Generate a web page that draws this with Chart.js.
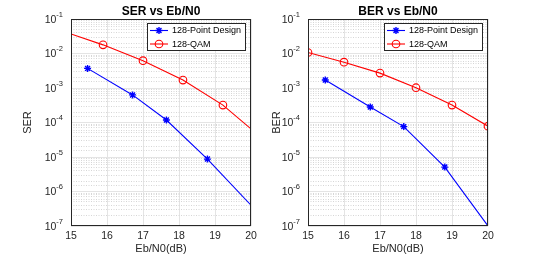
<!DOCTYPE html>
<html><head><meta charset="utf-8">
<script src="https://cdn.jsdelivr.net/npm/chart.js@4/dist/chart.umd.min.js"></script>
<style>
html,body{margin:0;padding:0;background:#fff;width:540px;height:256px;overflow:hidden}
.box{position:absolute;top:0;width:270px;height:256px}
</style></head><body>
<div class="box" style="left:0"><canvas id="c1" width="270" height="256"></canvas></div>
<div class="box" style="left:270px"><canvas id="c2" width="270" height="256"></canvas></div>
<script>
// ---- data ----
const xTicks = [15, 16, 17, 18, 19, 20];
const serDesignX = [15.46, 16.71, 17.65, 18.79, 20];
const serDesignY = [3.7e-3, 6.3e-4, 1.18e-4, 8.7e-6, 4.0e-7];
const serQamX = [15, 15.89, 17.0, 18.11, 19.22, 20];
const serQamY = [3.7e-2, 1.78e-2, 6.2e-3, 1.7e-3, 3.2e-4, 6.5e-5];
const berDesignX = [15.48, 16.73, 17.66, 18.80, 20];
const berDesignY = [1.7e-3, 2.8e-4, 7.6e-5, 5.1e-6, 1.0e-7];
const berQamX = [15, 16, 17, 18, 19, 20];
const berQamY = [1.07e-2, 5.6e-3, 2.7e-3, 1.02e-3, 3.2e-4, 7.8e-5];
const yMinVal = 1e-7, yMaxVal = 1e-1;
const labelDesign = '128-Point Design';
const labelQam = '128-QAM';

// ---- styling / helpers ----
const FF = '"Liberation Sans", Arial, Helvetica, sans-serif';
const AX = '#262626';
const isDecade = v => { const l = Math.log10(v); return Math.abs(l - Math.round(l)) < 1e-6; };
const pts = (xs, ys) => xs.map((x, i) => ({x, y: ys[i]}));

const frame = {
  id: 'frame',
  afterDatasetsDraw(chart) {
    const {ctx, chartArea: a} = chart;
    ctx.save();
    ctx.strokeStyle = AX; ctx.lineWidth = 1;
    ctx.strokeRect(Math.round(a.left) + 0.5, Math.round(a.top) + 0.5,
                   Math.round(a.right - a.left) - 1, Math.round(a.bottom - a.top) - 1);
    ctx.restore();
  }
};

// power-of-ten tick labels with a raised exponent, placed at the y scale's own tick pixels
const powLabels = {
  id: 'powLabels',
  afterDraw(chart) {
    const {ctx} = chart;
    const s = chart.scales.y;
    ctx.save();
    ctx.fillStyle = AX;
    ctx.textBaseline = 'middle';
    ctx.textAlign = 'left';
    s.ticks.forEach(t => {
      if (!isDecade(t.value)) return;
      const e = String(Math.round(Math.log10(t.value)));
      const y = s.getPixelForValue(t.value);
      ctx.font = '7.5px ' + FF;
      const ew = ctx.measureText(e).width;
      ctx.font = '10.5px ' + FF;
      const bw = ctx.measureText('10').width;
      const right = s.right - 8;
      ctx.fillText('10', right - ew - bw, y + 1);
      ctx.font = '7.5px ' + FF;
      ctx.fillText(e, right - ew, y - 4.5);
    });
    ctx.restore();
  }
};

const boxLegend = {
  id: 'boxLegend',
  afterDraw(chart) {
    const {ctx, chartArea: a} = chart;
    const ds = chart.data.datasets;
    ctx.save();
    ctx.font = '9px ' + FF;
    const tw = Math.max(...ds.map(d => ctx.measureText(d.label).width));
    const w = Math.round(24 + tw + 5), h = 27;
    const L = Math.round(a.right - 6 - w), T = Math.round(a.top + 4);
    ctx.fillStyle = '#fff';
    ctx.fillRect(L, T, w, h);
    ctx.strokeStyle = AX; ctx.lineWidth = 1;
    ctx.strokeRect(L + 0.5, T + 0.5, w, h);
    ds.forEach((d, i) => {
      const y = T + 7.5 + i * 13.5;
      ctx.strokeStyle = d.borderColor; ctx.lineWidth = 1.1;
      ctx.beginPath(); ctx.moveTo(L + 3, y); ctx.lineTo(L + 21, y); ctx.stroke();
      ctx.fillStyle = 'rgba(0,0,0,0)';
      ctx.lineWidth = d.pointBorderWidth;
      Chart.helpers.drawPoint(ctx, {pointStyle: d.pointStyle, radius: d.legendRadius, rotation: 0, borderWidth: d.pointBorderWidth}, L + 12, y);
      ctx.fillStyle = '#000';
      ctx.textBaseline = 'middle'; ctx.textAlign = 'left';
      ctx.fillText(d.label, L + 25, y + 0.5);
    });
    ctx.restore();
  }
};

function makeChart(id, title, yLabel, designPts, qamPts, designR, qamR, geo) {
  return new Chart(document.getElementById(id), {
    type: 'line',
    data: {
      datasets: [
        {label: labelDesign, data: designPts, borderColor: '#0000ff', backgroundColor: '#0000ff',
         borderWidth: 1.1, pointStyle: 'star', pointRadius: designR, pointBorderWidth: 1.4,
         pointBorderColor: '#0000ff', legendRadius: 3.5, tension: 0},
        {label: labelQam, data: qamPts, borderColor: '#ff0000', backgroundColor: 'rgba(0,0,0,0)',
         borderWidth: 1.1, pointStyle: 'circle', pointRadius: qamR, pointBorderWidth: 1.1,
         pointBorderColor: '#ff0000', pointBackgroundColor: 'rgba(0,0,0,0)', legendRadius: 3.8, tension: 0}
      ]
    },
    options: {
      responsive: false, animation: false, devicePixelRatio: 1,
      layout: {padding: {left: 0, right: geo.padRight, top: 0, bottom: 0}},
      plugins: {
        legend: {display: false},
        tooltip: {enabled: false},
        title: {display: true, text: title, fullSize: false, color: '#000',
                font: {family: FF, size: 12, weight: 'bold'}, padding: {top: 4, bottom: 0.6}}
      },
      scales: {
        x: {
          type: 'linear', min: 15, max: 20,
          afterBuildTicks: s => { s.ticks = xTicks.map(v => ({value: v})); },
          ticks: {color: AX, font: {family: FF, size: 10.5}, padding: 4, autoSkip: false},
          grid: {color: '#e4e4e4', drawTicks: false},
          border: {display: false},
          title: {display: true, text: 'Eb/N0(dB)', color: AX, font: {family: FF, size: 11}, padding: {top: 0, bottom: 0}},
          afterFit: s => { s.height = 30; }
        },
        yMinor: {
          type: 'logarithmic', position: 'left', min: yMinVal, max: yMaxVal,
          ticks: {display: false, autoSkip: false},
          grid: {drawTicks: false, color: c => (c.tick && isDecade(c.tick.value)) ? 'rgba(0,0,0,0)' : '#d6d6d6'},
          border: {display: false, dash: [1, 1.5]},
          afterFit: s => { s.width = 0; }
        },
        y: {
          type: 'logarithmic', position: 'left', min: yMinVal, max: yMaxVal,
          ticks: {display: false, autoSkip: false},
          grid: {drawTicks: false, color: c => (c.tick && isDecade(c.tick.value)) ? '#e4e4e4' : 'rgba(0,0,0,0)'},
          border: {display: false},
          title: {display: true, text: yLabel, color: AX, font: {family: FF, size: 11}, padding: {top: geo.yTitlePad, bottom: 0}},
          afterFit: s => { s.width = geo.yWidth; }
        }
      }
    },
    plugins: [frame, powLabels, boxLegend]
  });
}

makeChart('c1', 'SER vs Eb/N0', 'SER',
  pts(serDesignX, serDesignY), pts(serQamX, serQamY),
  [3.5, 3.5, 3.5, 3.5, 0], [0, 3.8, 3.8, 3.8, 3.8, 0],
  {yWidth: 71, padRight: 19, yTitlePad: 21});
makeChart('c2', 'BER vs Eb/N0', 'BER',
  pts(berDesignX, berDesignY), pts(berQamX, berQamY),
  [3.5, 3.5, 3.5, 3.5, 0], [3.8, 3.8, 3.8, 3.8, 3.8, 3.8],
  {yWidth: 38, padRight: 52, yTitlePad: 0});
</script>
</body></html>
